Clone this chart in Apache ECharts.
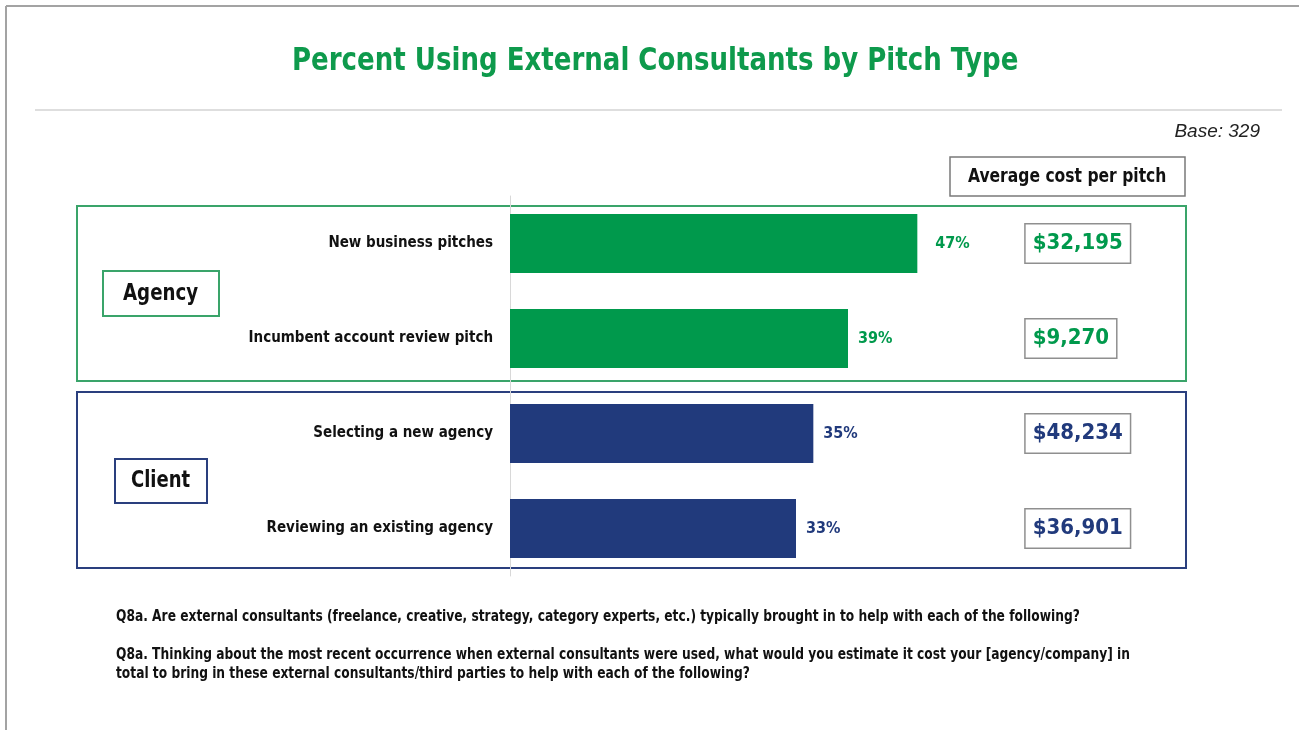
<!DOCTYPE html>
<html>
<head>
<meta charset="utf-8">
<script src="https://cdn.jsdelivr.net/npm/echarts@6/dist/echarts.min.js"></script>
<style>
  html, body { margin: 0; padding: 0; background: #fff; }
  #chart { width: 1299px; height: 730px; }
</style>
</head>
<body>
<div id="chart"></div>
<script>
// Survey results: share using external consultants, plus average cost per pitch
const categories = [
  'New business pitches',
  'Incumbent account review pitch',
  'Selecting a new agency',
  'Reviewing an existing agency'
];
const groups = ['Agency', 'Agency', 'Client', 'Client'];
const percentUsing = [47, 39, 35, 33];
const avgCostPerPitch = [32195, 9270, 48234, 36901];

const FONT = "'Liberation Sans Narrow', 'Arial Narrow', 'DejaVu Sans Condensed', sans-serif";
const GREEN = '#00994c';
const NAVY = '#213a7c';
const groupColor = { Agency: GREEN, Client: NAVY };
const COST_COLUMN = 59.5; // x position (in % units) of the cost boxes

const chart = echarts.init(document.getElementById('chart'), null, { renderer: 'canvas' });

const fmtMoney = v => '$' + v.toLocaleString('en-US');

// condensed text helper for free-standing labels
function txt(x, y, text, font, opts) {
  opts = opts || {};
  return {
    type: 'text', x: x, y: y,
    scaleX: opts.scaleX || 1, originX: 0, originY: 0,
    style: {
      text: text, fill: opts.fill || '#111', font: font,
      textAlign: opts.align || 'left', textVerticalAlign: 'middle'
    }
  };
}

const costLabel = {
  show: true, position: 'right', distance: 0,
  fontFamily: FONT, fontWeight: 'bold', fontSize: 22, lineHeight: 23,
  backgroundColor: '#fff', borderColor: '#8f8f8f', borderWidth: 1.5,
  padding: [8, 7, 7, 7]
};

chart.setOption({
  animation: false,
  backgroundColor: '#fff',
  grid: { left: 510, top: 196, width: 520, height: 380, containLabel: false },
  xAxis: {
    type: 'value', min: 0, max: 60, show: false
  },
  yAxis: {
    type: 'category',
    inverse: true,
    data: categories,
    axisLine: { show: true, lineStyle: { color: '#d8d8d8', width: 1 } },
    axisTick: { show: false },
    axisLabel: {
      margin: 17, color: '#111', fontFamily: FONT, fontWeight: 'bold', fontSize: 15
    }
  },
  series: [
    {
      type: 'bar',
      barWidth: 59,
      data: percentUsing.map((v, i) => ({
        value: v,
        itemStyle: { color: groupColor[groups[i]] },
        label: { color: groupColor[groups[i]], distance: i === 0 ? 18 : 10 }
      })),
      label: {
        show: true, position: 'right',
        formatter: p => p.value + '%',
        fontFamily: FONT, fontWeight: 'bold', fontSize: 16
      }
    },
    {
      type: 'scatter',
      symbolSize: 0,
      clip: false,
      z: 5,
      itemStyle: { opacity: 1 },
      data: avgCostPerPitch.map((c, i) => ({
        value: [COST_COLUMN, categories[i]],
        cost: c,
        label: Object.assign({}, costLabel, { color: groupColor[groups[i]] })
      })),
      label: Object.assign({}, costLabel, {
        formatter: p => fmtMoney(p.data.cost)
      })
    }
  ],
  graphic: [
    // page frame
    { type: 'line', shape: { x1: 6, y1: 6, x2: 1299, y2: 6 }, style: { stroke: '#a3a3a3', lineWidth: 2 } },
    { type: 'line', shape: { x1: 6, y1: 6, x2: 6, y2: 730 }, style: { stroke: '#a3a3a3', lineWidth: 2 } },
    // title and rule
    txt(292, 62, 'Percent Using External Consultants by Pitch Type', 'bold 32px ' + FONT, { fill: '#0e9a4c', scaleX: 0.905 }),
    { type: 'line', shape: { x1: 35, y1: 110, x2: 1282, y2: 110 }, style: { stroke: '#dedede', lineWidth: 2 } },
    txt(1260, 132, 'Base: 329', "italic 19px 'Liberation Sans', sans-serif", { fill: '#222', align: 'right' }),
    // column header
    { type: 'rect', shape: { x: 950, y: 157, width: 235, height: 39 }, style: { fill: '#fff', stroke: '#7a7a7a', lineWidth: 1.5 } },
    txt(968, 177, 'Average cost per pitch', 'bold 19px ' + FONT, { scaleX: 0.91 }),
    // group frames
    { type: 'rect', z: -1, shape: { x: 77, y: 206, width: 1109, height: 175 }, style: { fill: 'none', stroke: '#3aa46a', lineWidth: 2 } },
    { type: 'rect', z: -1, shape: { x: 77, y: 392, width: 1109, height: 176 }, style: { fill: 'none', stroke: '#2a3f7e', lineWidth: 2 } },
    { type: 'rect', shape: { x: 103, y: 271, width: 116, height: 45 }, style: { fill: '#fff', stroke: '#3aa46a', lineWidth: 2 } },
    txt(123, 294, 'Agency', 'bold 23px ' + FONT, { scaleX: 0.88 }),
    { type: 'rect', shape: { x: 115, y: 459, width: 92, height: 44 }, style: { fill: '#fff', stroke: '#2a3f7e', lineWidth: 2 } },
    txt(131, 481, 'Client', 'bold 23px ' + FONT, { scaleX: 0.87 }),
    // question notes
    txt(116, 617, 'Q8a. Are external consultants (freelance, creative, strategy, category experts, etc.) typically brought in to help with each of the following?',
      'bold 15px ' + FONT, { scaleX: 0.908 }),
    txt(116, 655, 'Q8a. Thinking about the most recent occurrence when external consultants were used, what would you estimate it cost your [agency/company] in',
      'bold 15px ' + FONT, { scaleX: 0.908 }),
    txt(116, 674, 'total to bring in these external consultants/third parties to help with each of the following?',
      'bold 15px ' + FONT, { scaleX: 0.908 })
  ]
});
</script>
</body>
</html>
